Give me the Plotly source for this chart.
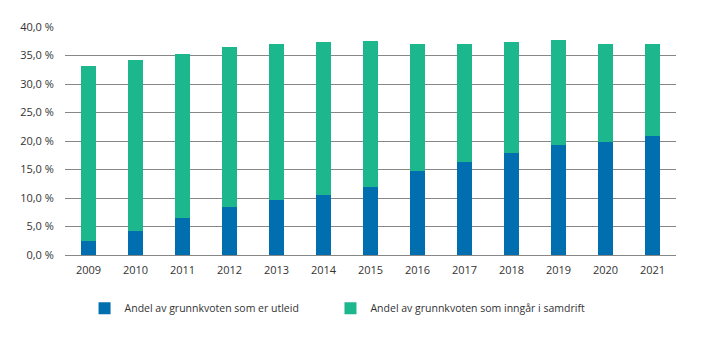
import plotly.graph_objects as go

years = ["2009", "2010", "2011", "2012", "2013", "2014", "2015", "2016", "2017", "2018", "2019", "2020", "2021"]
utleid = [2.45, 4.26, 6.5, 8.47, 9.64, 10.5, 11.9, 14.67, 16.25, 17.95, 19.35, 19.76, 20.93]
total = [33.2, 34.26, 35.3, 36.5, 37.0, 37.4, 37.5, 37.07, 37.07, 37.4, 37.7, 37.07, 37.1]
samdrift = [round(t - u, 2) for t, u in zip(total, utleid)]

name_utleid = "Andel av grunnkvoten som er utleid"
name_samdrift = "Andel av grunnkvoten som inngår i samdrift"

fig = go.Figure()
fig.add_trace(go.Bar(x=years, y=utleid, name=name_utleid, legend="legend",
                     marker=dict(color="#006eaf", line=dict(width=0))))
fig.add_trace(go.Bar(x=years, y=samdrift, name=name_samdrift, legend="legend2",
                     marker=dict(color="#1cb78c", line=dict(width=0))))

leg_common = dict(orientation="h", xanchor="left", y=-0.17, yanchor="top",
                  font=dict(size=10.5, color="#333333"), bgcolor="rgba(0,0,0,0)")

fig.update_layout(
    width=719, height=341,
    barmode="stack", bargap=0.69,
    separators=", ",
    plot_bgcolor="white", paper_bgcolor="white",
    font=dict(family="Open Sans", size=11, color="#333333"),
    margin=dict(l=65, r=43, t=27, b=86),
    showlegend=True,
    legend=dict(x=0.032, **leg_common),
    legend2=dict(x=0.4345, **leg_common),
    xaxis=dict(showgrid=False, showline=False, ticks="outside", ticklen=5, tickcolor="white",
               tickfont=dict(size=11)),
    yaxis=dict(range=[0, 40], dtick=5, tickformat=".1f", ticksuffix=" %",
               showgrid=True, gridcolor="#878787", gridwidth=1,
               zeroline=True, zerolinecolor="#878787", zerolinewidth=1,
               showline=False, ticks="outside", ticklen=8, tickcolor="white",
               tickfont=dict(size=11)),
)

fig.write_html("out.html")
